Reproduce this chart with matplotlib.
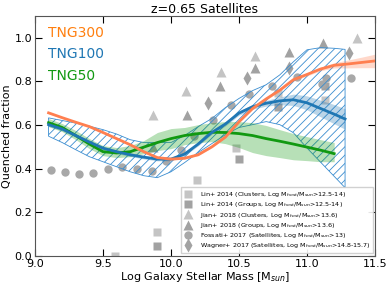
import numpy as np
import matplotlib
matplotlib.use("Agg")
import matplotlib.pyplot as plt

# simulation curves (log M*, quenched fraction)
mass = [9.1, 9.2, 9.3, 9.4, 9.5, 9.6, 9.7, 9.8, 9.9, 10.0, 10.1, 10.2, 10.3,
        10.4, 10.5, 10.6, 10.7, 10.8, 10.9, 11.0, 11.1, 11.2, 11.3, 11.4, 11.5]
tng300 = [0.656, 0.634, 0.613, 0.593, 0.566, 0.538, 0.510, 0.478, 0.451, 0.444,
          0.448, 0.464, 0.500, 0.545, 0.615, 0.676, 0.720, 0.760, 0.808, 0.832,
          0.857, 0.874, 0.880, 0.887, 0.894]
tng300_err = [0.004, 0.004, 0.004, 0.004, 0.004, 0.004, 0.004, 0.004, 0.004, 0.004,
              0.004, 0.004, 0.004, 0.004, 0.004, 0.005, 0.005, 0.005, 0.006, 0.007,
              0.008, 0.012, 0.018, 0.024, 0.031]

mass_100 = [9.1, 9.2, 9.3, 9.4, 9.5, 9.6, 9.7, 9.8, 9.9, 10.0, 10.1, 10.2, 10.3,
            10.4, 10.5, 10.6, 10.7, 10.8, 10.9, 11.0, 11.1, 11.2, 11.28]
tng100 = [0.602, 0.582, 0.552, 0.522, 0.494, 0.478, 0.464, 0.453, 0.444, 0.444,
          0.467, 0.513, 0.566, 0.605, 0.655, 0.684, 0.700, 0.711, 0.716, 0.702,
          0.676, 0.650, 0.628]
tng100_err = [0.008, 0.008, 0.008, 0.008, 0.008, 0.008, 0.008, 0.008, 0.008, 0.008,
              0.008, 0.008, 0.008, 0.009, 0.010, 0.011, 0.013, 0.018, 0.026, 0.032,
              0.038, 0.044, 0.047]
tng100_hi = [0.633, 0.621, 0.609, 0.595, 0.579, 0.559, 0.533, 0.520, 0.520, 0.520,
             0.552, 0.593, 0.630, 0.680, 0.722, 0.758, 0.785, 0.830, 0.890, 0.945,
             0.955, 0.952, 0.947]
tng100_lo = [0.549, 0.520, 0.487, 0.455, 0.432, 0.409, 0.386, 0.368, 0.359, 0.386,
             0.428, 0.474, 0.515, 0.556, 0.589, 0.602, 0.616, 0.602, 0.565, 0.495,
             0.430, 0.365, 0.313]

mass_50 = [9.1, 9.2, 9.3, 9.4, 9.5, 9.6, 9.7, 9.8, 9.9, 10.0, 10.1, 10.2, 10.3,
           10.4, 10.5, 10.6, 10.7, 10.8, 10.9, 11.0, 11.1, 11.2]
tng50 = [0.611, 0.589, 0.552, 0.513, 0.478, 0.472, 0.478, 0.499, 0.520, 0.538,
         0.552, 0.561, 0.567, 0.566, 0.561, 0.552, 0.538, 0.526, 0.513, 0.499,
         0.485, 0.469]
tng50_hi = [0.630, 0.607, 0.575, 0.538, 0.506, 0.497, 0.506, 0.529, 0.566, 0.584,
            0.589, 0.602, 0.611, 0.616, 0.616, 0.611, 0.598, 0.579, 0.561, 0.547,
            0.533, 0.520]
tng50_lo = [0.593, 0.570, 0.533, 0.492, 0.460, 0.451, 0.455, 0.469, 0.483, 0.492,
            0.510, 0.520, 0.524, 0.515, 0.497, 0.474, 0.460, 0.451, 0.441, 0.437,
            0.432, 0.432]

# observations
lin_cl_x = [9.59, 9.90, 10.19, 10.48, 10.79, 11.13]
lin_cl_y = [0.0, 0.109, 0.347, 0.494, 0.745, 0.717]
lin_gr_x = [9.90, 10.50, 10.79, 11.13]
lin_gr_y = [0.047, 0.446, 0.685, 0.778]
jian_cl_x = [9.87, 10.11, 10.37, 10.62, 11.37]
jian_cl_y = [0.644, 0.758, 0.842, 0.916, 1.001]
jian_gr_x = [9.87, 10.12, 10.36, 10.62, 10.87, 11.12]
jian_gr_y = [0.501, 0.648, 0.780, 0.861, 0.936, 0.974]
fossati_x = [9.12, 9.22, 9.32, 9.43, 9.54, 9.64, 9.75, 9.86, 9.96, 10.07, 10.17,
             10.31, 10.44, 10.57, 10.74, 10.93, 11.11, 11.14, 11.32]
fossati_y = [0.395, 0.386, 0.374, 0.380, 0.400, 0.410, 0.399, 0.389, 0.434, 0.487,
             0.552, 0.624, 0.694, 0.741, 0.778, 0.822, 0.786, 0.816, 0.815]
wagner_x = [10.27, 10.56, 10.87, 11.31]
wagner_y = [0.699, 0.818, 0.863, 0.932]

c300 = '#ff7f50'
c100 = '#1f77b4'
c50 = '#119911'

plt.rcParams['hatch.linewidth'] = 0.6
plt.rcParams['font.family'] = 'DejaVu Sans'

fig = plt.figure(figsize=(3.9, 2.85), dpi=100)
ax = fig.add_axes([0.0897, 0.1018, 0.8718, 0.8421])

light = '#c4c4c4'
dark = '#a2a2a2'
ax.plot(lin_cl_x, lin_cl_y, 's', color=light, ms=5.5, mec='none', zorder=1,
        label=r'Lin+ 2014 (Clusters, Log M$_{host}$/M$_{sun}$>12.5-14)')
ax.plot(lin_gr_x, lin_gr_y, 's', color=dark, ms=5.5, mec='none', zorder=1,
        label=r'Lin+ 2014 (Groups, Log M$_{host}$/M$_{sun}$>12.5-14)')
ax.plot(jian_cl_x, jian_cl_y, '^', color=light, ms=6.5, mec='none', zorder=1,
        label=r'Jian+ 2018 (Clusters, Log M$_{host}$/M$_{sun}$>13.6)')
ax.plot(jian_gr_x, jian_gr_y, '^', color=dark, ms=6.5, mec='none', zorder=1,
        label=r'Jian+ 2018 (Groups, Log M$_{host}$/M$_{sun}$>13.6)')
ax.plot(fossati_x, fossati_y, 'o', color='#a8a8a8', ms=6, mec='none', zorder=1,
        label=r'Fossati+ 2017 (Satellites, Log M$_{host}$/M$_{sun}$>13)')
ax.plot(wagner_x, wagner_y, 'd', color=dark, ms=7.5, mec='none', zorder=1,
        label=r'Wagner+ 2017 (Satellites, Log M$_{host}$/M$_{sun}$>14.8-15.7)')

# TNG100 spread (hatched) and errors
ax.fill_between(mass_100, tng100_lo, tng100_hi, facecolor='none', edgecolor='#3a8dd0',
                hatch='////', linewidth=0.6, zorder=2)
t100 = np.array(tng100)
e100 = np.array(tng100_err)
ax.fill_between(mass_100, t100 - e100, t100 + e100, color=c100, alpha=0.3, lw=0, zorder=2)
ax.fill_between(mass_50, tng50_lo, tng50_hi, color=c50, alpha=0.3, lw=0, zorder=2)
t300 = np.array(tng300)
e300 = np.array(tng300_err)
ax.fill_between(mass, t300 - e300, t300 + e300, color=c300, alpha=0.3, lw=0, zorder=2)

ax.plot(mass_50, tng50, color=c50, lw=2, zorder=3)
ax.plot(mass_100, tng100, color=c100, lw=2, zorder=3)
ax.plot(mass, tng300, color=c300, lw=2, zorder=3)

ax.text(0.038, 0.929, 'TNG300', color='#ff7f0e', fontsize=10, transform=ax.transAxes, va='center')
ax.text(0.038, 0.842, 'TNG100', color=c100, fontsize=10, transform=ax.transAxes, va='center')
ax.text(0.038, 0.750, 'TNG50', color=c50, fontsize=10, transform=ax.transAxes, va='center')

ax.set_xlim(9.0, 11.5)
ax.set_ylim(0.0, 1.1)
ax.set_xticks([9.0, 9.5, 10.0, 10.5, 11.0, 11.5])
ax.set_yticks([0.0, 0.2, 0.4, 0.6, 0.8, 1.0])
ax.tick_params(direction='in', top=True, right=True, length=5, width=0.8, labelsize=8, pad=2)
for s in ax.spines.values():
    s.set_color('#555555')
ax.set_title('z=0.65 Satellites', fontsize=9, pad=2)
ax.set_xlabel(r'Log Galaxy Stellar Mass [M$_{sun}$]', fontsize=8, labelpad=1)
ax.set_ylabel('Quenched fraction', fontsize=8, labelpad=2)

ax.legend(loc='lower right', bbox_to_anchor=(0.994, 0.0125), fontsize=4.6,
          borderaxespad=0, frameon=True, framealpha=0.9, edgecolor='#cccccc',
          fancybox=False, labelspacing=0.2, handlelength=1.6, handletextpad=1.0,
          borderpad=0.4, markerscale=1.0)

fig.savefig('out.png', dpi=100)
